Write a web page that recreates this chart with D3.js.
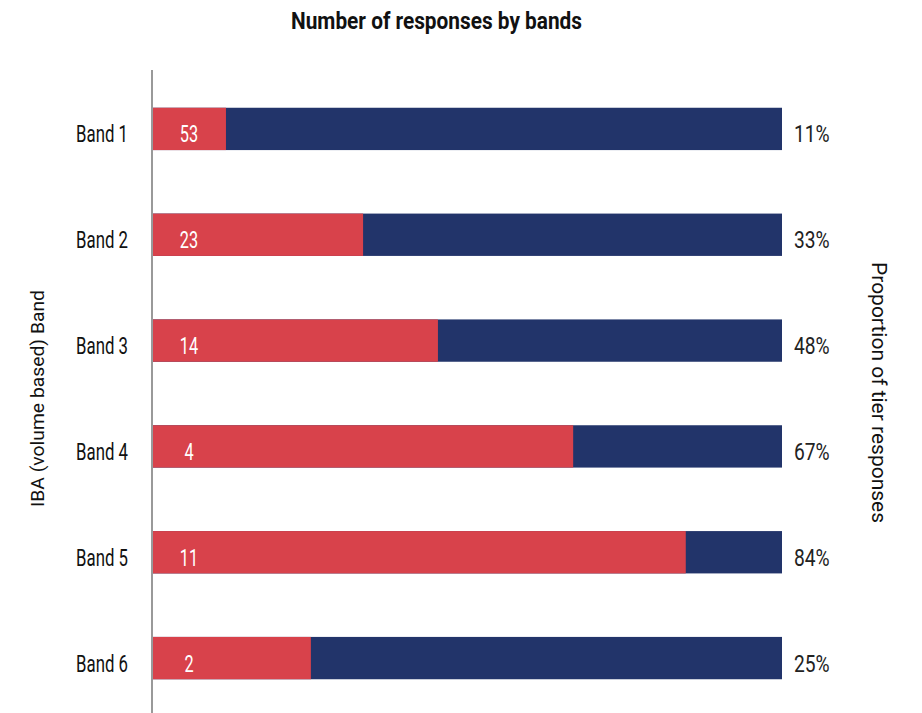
<!DOCTYPE html>
<html>
<head>
<meta charset="utf-8">
<script src="https://cdn.jsdelivr.net/npm/d3@7"></script>
<style>
  body { margin: 0; background: #fff; }
  svg { display: block; }
  text { font-family: Roboto, "Noto Sans", sans-serif; }
</style>
</head>
<body>
<svg id="chart" width="922" height="713"></svg>
<script>
const categories = ["Band 1", "Band 2", "Band 3", "Band 4", "Band 5", "Band 6"];
const responseCounts = [53, 23, 14, 4, 11, 2];
const redShare = [0.116, 0.334, 0.453, 0.668, 0.847, 0.251];
const percentLabels = ["11%", "33%", "48%", "67%", "84%", "25%"];

const x0 = 153, x1 = 782;
const svg = d3.select("#chart");

const y = d3.scaleBand().domain(categories).range([76, 711]).paddingInner(0.6).paddingOuter(0.3);
const x = d3.scaleLinear().domain([0, 1]).range([x0, x1]);
const base = d => y(d) + y.bandwidth() / 2 + 13.5;

const rows = categories.map((c, i) => ({ cat: c, count: responseCounts[i], share: redShare[i], pct: percentLabels[i] }));

// blue full bars
svg.append("g").selectAll("rect").data(rows).join("rect")
  .attr("x", x(0)).attr("y", d => y(d.cat))
  .attr("width", x(1) - x(0)).attr("height", y.bandwidth())
  .attr("fill", "#22346A");
// red share
svg.append("g").selectAll("rect").data(rows).join("rect")
  .attr("x", x(0)).attr("y", d => y(d.cat))
  .attr("width", d => x(d.share) - x(0)).attr("height", y.bandwidth())
  .attr("fill", "#D8424B");

// count labels
svg.append("g").selectAll("text").data(rows).join("text")
  .attr("transform", d => `translate(189,${base(d.cat)}) scale(0.68,1)`)
  .attr("text-anchor", "middle")
  .attr("fill", "#fff").attr("font-size", 24)
  .text(d => d.count);

// percent labels
svg.append("g").selectAll("text").data(rows).join("text")
  .attr("transform", d => `translate(794,${base(d.cat)}) scale(0.8,1)`)
  .attr("text-anchor", "start")
  .attr("fill", "#222").attr("font-size", 24)
  .text(d => d.pct);

// y axis
const yAxis = d3.axisLeft(y).tickSize(0).tickPadding(0);
const ga = svg.append("g").attr("transform", `translate(128,0)`).call(yAxis);
ga.select(".domain").remove();
ga.selectAll(".tick text")
  .attr("x", null).attr("dy", null)
  .attr("transform", `translate(0,${y.bandwidth() / 2 * 0 + 13.5}) scale(0.7,1)`)
  .attr("font-size", 24).attr("font-family", "Roboto, sans-serif").attr("fill", "#111");
svg.append("line").attr("x1", 152).attr("x2", 152).attr("y1", 70).attr("y2", 713)
  .attr("stroke", "#999").attr("stroke-width", 2);

// title
svg.append("text")
  .attr("x", 291).attr("y", 29).attr("text-anchor", "start")
  .attr("textLength", 291).attr("lengthAdjust", "spacingAndGlyphs")
  .attr("font-size", 23).attr("font-weight", "bold").attr("fill", "#111")
  .text("Number of responses by bands");

// left axis title
svg.append("text")
  .attr("transform", "translate(44,507) rotate(-90)")
  .attr("x", 0).attr("y", 0)
  .attr("textLength", 217).attr("lengthAdjust", "spacingAndGlyphs")
  .attr("font-size", 19).attr("fill", "#111")
  .text("IBA (volume based) Band");

// right axis title
svg.append("text")
  .attr("transform", "translate(872,262) rotate(90)")
  .attr("x", 0).attr("y", 0)
  .attr("textLength", 261).attr("lengthAdjust", "spacingAndGlyphs")
  .attr("font-size", 20).attr("fill", "#111")
  .text("Proportion of tier responses");
</script>
</body>
</html>
